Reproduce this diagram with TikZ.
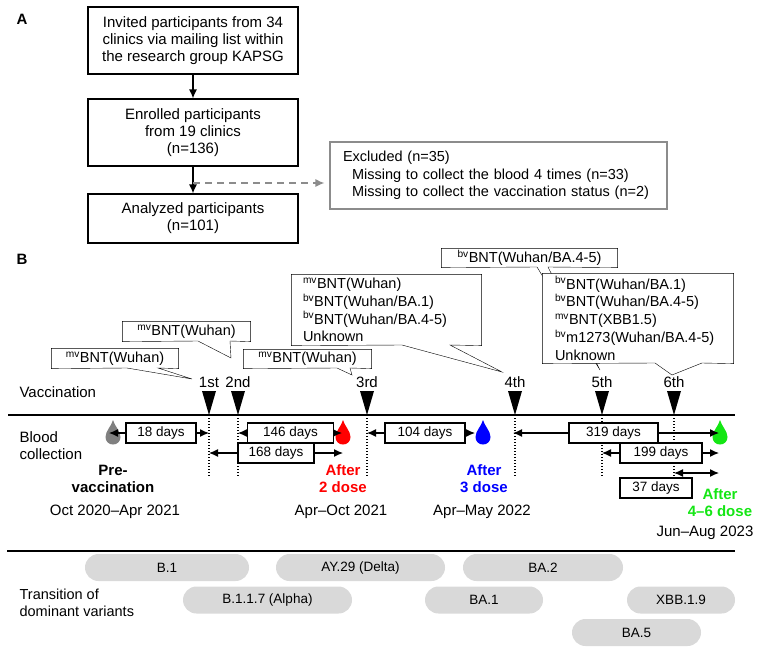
\documentclass[tikz,border=0pt]{standalone}
\usepackage{fontspec}
\setmainfont{Liberation Sans}
\usetikzlibrary{arrows.meta,positioning,backgrounds}

\definecolor{dropred}{RGB}{255,0,0}
\definecolor{dropblue}{RGB}{0,0,255}
\definecolor{dropgreen}{RGB}{20,230,20}
\definecolor{pillgray}{RGB}{217,217,217}
\definecolor{linegray}{RGB}{140,140,140}

\tikzset{
  drop/.pic={
    \fill (0,-13) .. controls (1.5,-7) and (7.5,-2) .. (7.5,4)
      .. controls (7.5,8.5) and (4.2,11.5) .. (0,11.5)
      .. controls (-4.2,11.5) and (-7.5,8.5) .. (-7.5,4)
      .. controls (-7.5,-2) and (-1.5,-7) .. (0,-13) -- cycle;
  }
}

\begin{document}
\begin{tikzpicture}[
    x=1pt, y=-1pt,
    node distance=92pt,
    >={Latex[length=9pt,width=8pt]},
    line width=1.2pt,
    font=\fontsize{15}{17}\selectfont,
    flowbox/.style={
		rectangle,
		draw=black,
		align=center,
		inner sep=0pt,
		minimum width=210pt,
		minimum height=67pt
	},
	exclbox/.style={
		rectangle,
		draw=linegray,
		align=left,
		inner xsep=9.5pt,
		text width=318pt,
		minimum height=67pt,
		font=\fontsize{14.5}{17.5}\selectfont
	},
	callnote/.style={
		rectangle,
		inner sep=0pt,
		minimum height=19pt,
		font=\fontsize{14.5}{17.8}\selectfont
	},
	callbox/.style={
		draw=black,
		fill=white,
		line join=miter
	},
	ordinal/.style={
		inner sep=0pt
	},
	daybox/.style={
		rectangle,
		draw=black,
		fill=white,
		inner sep=0pt,
		minimum height=20pt,
		font=\fontsize{13.5}{15}\selectfont
	},
	vline/.style={
		line width=1.4pt,
		dash pattern=on 1.4pt off 1.6pt
	},
	stage/.style={
		align=center,
		inner sep=0pt,
		font=\bfseries\fontsize{15}{17}\selectfont
	},
	caption/.style={
		anchor=west,
		align=left,
		inner sep=0pt
	},
	pill/.style={
		rectangle,
		rounded corners=13.5pt,
		fill=pillgray,
		inner sep=0pt,
		minimum height=27pt,
		font=\fontsize{13.5}{15}\selectfont
	}
  ]

\useasboundingbox (0,0) rectangle (758,654);

% // A: flow of participants
\node [font=\bfseries\fontsize{15}{17}\selectfont] (panA) at (22,19) {A};

\node [flowbox] (invite) at (193,40.5)
 {Invited participants from 34\\clinics via mailing list within\\the research group KAPSG};
\node [flowbox, below of=invite] (enroll)
 {Enrolled participants\\from 19 clinics\\(n=136)};
\node [flowbox, below of=enroll, yshift=6pt, minimum height=49pt] (analyzed)
 {Analyzed participants\\(n=101)};
\node [exclbox] (excluded) at (498.5,175.5)
 {\hspace*{3.5pt}Excluded (n=35)\\
  \hspace*{12.5pt}Missing to collect the blood 4 times (n=33)\\
  \hspace*{12.5pt}Missing to collect the vaccination status (n=2)};

 \draw [->] (invite) -- (enroll);
 \draw [->] (enroll) -- (analyzed);
 \coordinate (split) at (193,183);
 \draw [->, linegray, dash pattern=on 7pt off 5pt, shorten >=5pt] (split) -- (split -| excluded.west);

% // B: timeline
\node [font=\bfseries\fontsize{15}{17}\selectfont] (panB) at (22,259) {B};

% callouts
\node [callnote, minimum width=126pt] (cA) at (115,358.5) {\textsuperscript{mv}BNT(Wuhan)};
\node [callnote, minimum width=127pt] (cB) at (186.5,331.5) {\textsuperscript{mv}BNT(Wuhan)};
\node [callnote, minimum width=127pt, minimum height=18pt] (cC) at (307.5,359) {\textsuperscript{mv}BNT(Wuhan)};
\node [callnote, align=left, text width=167pt, inner xsep=11pt, minimum height=70pt] (cD) at (386.5,310)
 {\textsuperscript{mv}BNT(Wuhan)\\
  \textsuperscript{bv}BNT(Wuhan/BA.1)\\
  \textsuperscript{bv}BNT(Wuhan/BA.4-5)\\
  Unknown};
\node [callnote, minimum width=175pt, minimum height=18pt] (cE) at (529.5,258) {\textsuperscript{bv}BNT(Wuhan/BA.4-5)};
\node [callnote, align=left, text width=166pt, inner xsep=12pt, minimum height=89pt] (cF) at (638,318.5)
 {\textsuperscript{bv}BNT(Wuhan/BA.1)\\
  \textsuperscript{bv}BNT(Wuhan/BA.4-5)\\
  \textsuperscript{mv}BNT(XBB1.5)\\
  \textsuperscript{bv}m1273(Wuhan/BA.4-5)\\
  Unknown};

 \coordinate (tA) at (192,379);
 \coordinate (tB) at (231,358);
 \coordinate (tC) at (352,375);
 \coordinate (tD) at (502,372);
 \coordinate (tE) at (600,370);
 \coordinate (tF) at (672,375);

\begin{scope}[on background layer]
 \draw [callbox] (cA.south west) -- (cA.north west) -- (cA.north east) -- (cA.south east) -- (158,368) -- (tA) -- (127,368) -- cycle;
 \draw [callbox] (cB.south west) -- (cB.north west) -- (cB.north east) -- (cB.south east) -- (230,341) -- (tB) -- (198,341) -- cycle;
 \draw [callbox] (cC.south west) -- (cC.north west) -- (cC.north east) -- (cC.south east) -- (350,368) -- (tC) -- (337,368) -- cycle;
 \draw [callbox] (cD.south west) -- (cD.north west) -- (cD.north east) -- (cD.south east) -- (450,345) -- (tD) -- (402,345) -- cycle;
 \draw [callbox] (cE.south west) -- (cE.north west) -- (cE.north east) -- (cE.south east) -- (548,267) -- (tE) -- (537,267) -- cycle;
 \draw [callbox] (cF.south west) -- (cF.north west) -- (cF.north east) -- (cF.south east) -- (702,363) -- (tF) -- (655,363) -- cycle;
\end{scope}

% row captions
\node [caption] (vacc) at (19,392) {Vaccination};
\node [caption] (blood) at (19,445.5) {Blood\\collection};
\node [caption, font=\fontsize{14.5}{17}\selectfont] (trans) at (19,602.5) {Transition of\\dominant variants};

 \draw [line width=1.3pt] (8,415) -- (735,415);
 \draw [line width=1.3pt] (7,551) -- (735,551);

% vaccination doses
\foreach \i/\x/\ord in {1/209/1st, 2/238/2nd, 3/367/3rd, 4/515/4th, 5/602/5th, 6/674/6th}{
  \node [ordinal] (d\i) at (\x,382) {\ord};
  \coordinate (v\i) at (\x,415);
  \fill (\x-7,391) -- (\x+7,391) -- (v\i) -- cycle;
  \draw [vline] (v\i) -- (\x,477);
}

% blood collections
 \coordinate (row1) at (0,433);
 \coordinate (row2) at (0,453);
 \coordinate (row3) at (0,473);
 \coordinate (b0) at (113,433);
 \coordinate (b1) at (343,433);
 \coordinate (b2) at (483,433);
 \coordinate (b3) at (720,433);
 \pic [fill=gray] at (b0) {drop};
 \pic [fill=dropred] at (b1) {drop};
 \pic [fill=dropblue] at (b2) {drop};
 \pic [fill=dropgreen] at (b3) {drop};

 \draw [<->, shorten <=-4pt] (b0) -- (v1 |- row1) node [daybox, midway, minimum width=70pt] (i18) {18 days};
 \draw [<->, shorten >=1pt] (v2 |- row1) -- (b1) node [daybox, midway, minimum width=86pt] (i146) {146 days};
 \draw [<->] (v1 |- row2) -- (b1 |- row2) node [daybox, midway, minimum width=76pt] (i168) {168 days};
 \draw [<->, shorten >=8pt] (v3 |- row1) -- (b2) node [daybox, midway, minimum width=80pt] (i104) {104 days};
 \draw [<->, shorten <=-2pt, shorten >=1pt] (v4 |- row1) -- (b3) node [daybox, pos=0.48, minimum width=89pt] (i319) {319 days};
 \draw [<->, shorten >=1pt] (v5 |- row2) -- (b3 |- row2) node [daybox, midway, minimum width=82pt] (i199) {199 days};
 \draw [<->, shorten >=1pt] (v6 |- row3) -- (b3 |- row3);
\node [daybox, minimum width=72pt] (i37) at (656,488) {37 days};

\node [stage] (pre) at (113,478.5) {Pre-\\vaccination};
\node [stage, text=dropred] (post2) at (343,478.5) {After\\2 dose};
\node [stage, text=dropblue] (post3) at (484,478.5) {After\\3 dose};
\node [stage, text=dropgreen] (post46) at (720,502.5) {After\\4--6 dose};

\node (t0) at (115,512) {Oct 2020--Apr 2021};
\node (t2) at (341,512) {Apr--Oct 2021};
\node (t3) at (482,512) {Apr--May 2022};
\node (t46) at (705,533) {Jun--Aug 2023};

% dominant variants
\node [pill, minimum width=164pt] (b1v) at (167,567.5) {B.1};
\node [pill, minimum width=169pt] (delta) at (360.5,567.5) {AY.29 (Delta)};
\node [pill, minimum width=160pt] (ba2) at (543,567.5) {BA.2};
\node [pill, minimum width=169pt] (alpha) at (267.5,600) {B.1.1.7 (Alpha)};
\node [pill, minimum width=118pt] (ba1) at (484,600) {BA.1};
\node [pill, minimum width=108pt] (xbb) at (681,600) {XBB.1.9};
\node [pill, minimum width=129pt] (ba5) at (636.5,632.5) {BA.5};

\end{tikzpicture}
\end{document}
